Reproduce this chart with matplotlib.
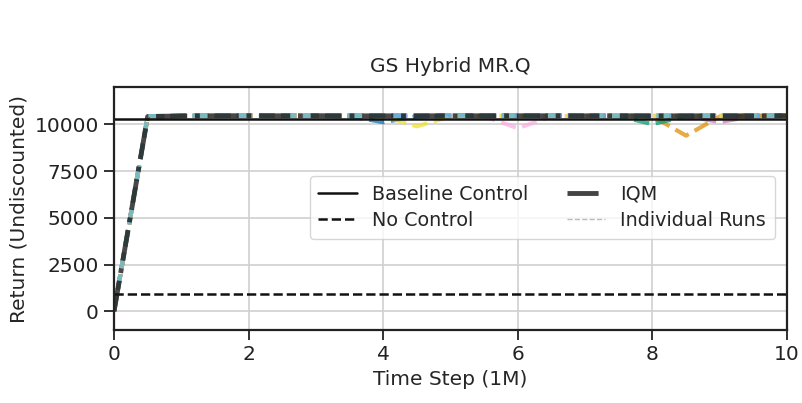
import matplotlib

matplotlib.use("Agg")

import matplotlib.pyplot as plt
import numpy as np
import seaborn as sns
from matplotlib.lines import Line2D

# time steps in units of 1M
steps = [0.0, 0.5, 1.0, 1.5, 2.0, 2.5, 3.0, 3.5, 4.0, 4.5, 5.0,
         5.5, 6.0, 6.5, 7.0, 7.5, 8.0, 8.5, 9.0, 9.5, 10.0]

baseline_control = 10300
no_control = 950

run_blue = [0, 10430, 10460, 10470, 10460, 10470, 10450, 10440, 10120, 10430, 10460,
            10470, 10460, 10450, 10470, 10460, 10450, 10460, 10470, 10460, 10470]
run_orange = [0, 10410, 10440, 10460, 10470, 10460, 10470, 10460, 10450, 10460, 10470,
              10460, 10470, 10460, 10450, 10470, 10440, 9400, 10420, 10460, 10480]
run_green = [0, 10420, 10450, 10470, 10460, 10470, 10460, 10470, 10460, 10450, 10460,
             10470, 10460, 10470, 10460, 10440, 10020, 10430, 10460, 10470, 10460]
run_red = [0, 10430, 10460, 10450, 10470, 10460, 10470, 10460, 10470, 10460, 10450,
           10470, 10460, 10470, 10450, 10460, 10470, 10460, 10450, 10460, 10470]
run_purple = [0, 10400, 10450, 10460, 10470, 10460, 10450, 10470, 10460, 10470, 10460,
              10450, 10460, 10470, 10460, 10470, 10460, 10450, 10130, 10440, 10460]
run_brown = [0, 10420, 10460, 10470, 10460, 10450, 10470, 10460, 10470, 10460, 10470,
             10460, 10450, 10470, 10460, 10470, 10460, 10470, 10460, 10450, 10470]
run_pink = [0, 10410, 10450, 10460, 10470, 10460, 10470, 10460, 10450, 10460, 10470,
            10430, 9800, 10420, 10460, 10470, 10460, 10470, 10460, 10470, 10460]
run_gray = [0, 10430, 10460, 10470, 10460, 10470, 10460, 10450, 10470, 10460, 10470,
            10460, 10470, 10460, 10470, 10460, 10450, 10460, 10470, 10460, 10470]
run_yellow = [0, 10420, 10450, 10460, 10470, 10460, 10470, 10460, 10440, 9900, 10430,
              10460, 10470, 10460, 10450, 10470, 10460, 10470, 10460, 10470, 10460]
run_cyan = [0, 10440, 10470, 10460, 10470, 10460, 10470, 10460, 10470, 10460, 10470,
            10460, 10470, 10460, 10470, 10460, 10470, 10460, 10470, 10460, 10470]

runs = [run_blue, run_orange, run_green, run_red, run_purple,
        run_brown, run_pink, run_gray, run_yellow, run_cyan]

sns.set_theme(style="whitegrid")
plt.rcParams["axes.edgecolor"] = "#222222"
plt.rcParams["axes.linewidth"] = 1.6
plt.rcParams["xtick.bottom"] = True
plt.rcParams["ytick.left"] = True
plt.rcParams["xtick.color"] = "#222222"
plt.rcParams["ytick.color"] = "#222222"

fig, ax = plt.subplots(figsize=(8.03, 4.03), dpi=100)
fig.subplots_adjust(left=0.142, right=0.980, top=0.784, bottom=0.181)

palette = sns.color_palette("colorblind", len(runs))
for color, run in zip(palette, runs):
    ax.plot(steps, run, color=color, linestyle="--", linewidth=3, alpha=0.75)

iqm = np.array(runs, dtype=float)
iqm = np.sort(iqm, axis=0)[2:8].mean(axis=0)
ax.plot(steps, iqm, color="#1a1a1a", linestyle="-.", linewidth=3.5, alpha=0.8)

ax.axhline(baseline_control, color="#111111", linewidth=1.8)
ax.axhline(no_control, color="#111111", linewidth=1.8, linestyle="--")

ax.set_xlim(0, 10)
ax.set_ylim(-1000, 12000)
ax.set_yticks([0, 2500, 5000, 7500, 10000])
ax.set_xticks([0, 2, 4, 6, 8, 10])
ax.tick_params(length=7, width=1.3, direction="out", labelsize=14.5, pad=4)
ax.grid(color="#d0d0d0", linewidth=1.2)
ax.set_xlabel("Time Step (1M)", fontsize=14.5)
ax.set_ylabel("Return (Undiscounted)", fontsize=14.5)
ax.set_title("GS Hybrid MR.Q", fontsize=14.5, pad=11)

handles = [
    Line2D([], [], color="#111111", linewidth=1.8),
    Line2D([], [], color="#111111", linewidth=1.8, linestyle="--"),
    Line2D([], [], color="#444444", linewidth=3.5, linestyle="-."),
    Line2D([], [], color="#bbbbbb", linewidth=1, linestyle="--"),
]
labels = ["Baseline Control", "No Control", "IQM", "Individual Runs"]
ax.legend(handles, labels, ncol=2, loc="center right",
          bbox_to_anchor=(0.996, 0.505), frameon=True, fontsize=13.8,
          columnspacing=2.0, borderpad=0.45, labelspacing=0.4)

fig.savefig("out.png", dpi=100)
